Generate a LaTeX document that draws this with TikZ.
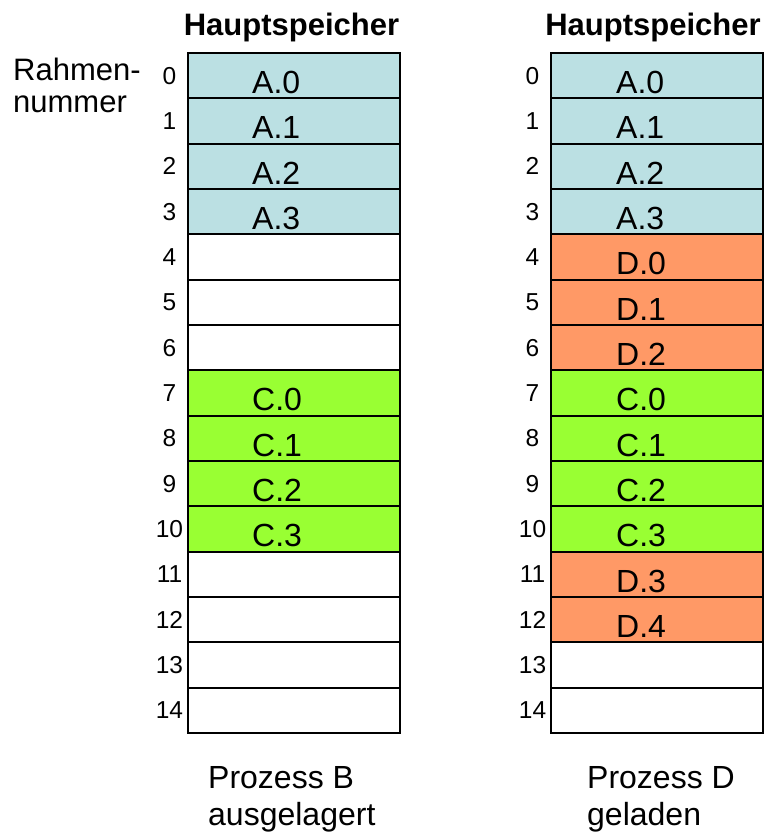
\documentclass[tikz,border=0pt]{standalone}
\usepackage{fontspec}
\setmainfont{Liberation Sans}
\usetikzlibrary{calc}
\definecolor{cblue}{RGB}{187,224,227}
\definecolor{cgreen}{RGB}{153,255,51}
\definecolor{corange}{RGB}{255,153,102}
\tikzset{
  cell/.style={draw=black, line width=2pt, minimum width=212pt, minimum height=45.333pt, inner sep=0pt, outer sep=0pt},
  celltext/.style={anchor=base west, font=\fontsize{32}{32}\selectfont, inner sep=0pt},
  num/.style={font=\fontsize{24.5}{24.5}\selectfont, inner sep=0pt},
  head/.style={anchor=base, font=\bfseries\fontsize{31}{31}\selectfont, inner sep=0pt},
  caption/.style={anchor=base west, align=left, font=\fontsize{32}{37}\selectfont, inner sep=0pt}
}
\begin{document}
\begin{tikzpicture}[x=1pt,y=-1pt]
\useasboundingbox (0,0) rectangle (767,833);
% headings
\node[head] (H1) at (291.5,35) {Hauptspeicher};
\node[head] (H2) at (653,35) {Hauptspeicher};
\node[anchor=base west, align=left, font=\fontsize{31}{32}\selectfont, inner sep=0pt] (RN) at (13,112) {Rahmen-\\nummer};
% left column
\foreach \i/\c in {0/cblue,1/cblue,2/cblue,3/cblue,4/white,5/white,6/white,7/cgreen,8/cgreen,9/cgreen,10/cgreen,11/white,12/white,13/white,14/white}{
  \node[cell, fill=\c] (L\i) at (294,{53+45.333*\i+22.667}) {};
  \node[num] (LN\i) at (169.5,{53+45.333*\i+22.667}) {\i};
}
\foreach \i/\t in {0/A.0,1/A.1,2/A.2,3/A.3,7/C.0,8/C.1,9/C.2,10/C.3}{
  \node[celltext] (LT\i) at ($(L\i.south west)+(64,-5)$) {\t};
}
% right column
\foreach \i/\c in {0/cblue,1/cblue,2/cblue,3/cblue,4/corange,5/corange,6/corange,7/cgreen,8/cgreen,9/cgreen,10/cgreen,11/corange,12/corange,13/white,14/white}{
  \node[cell, fill=\c] (R\i) at (657,{53+45.333*\i+22.667}) {};
  \node[num] (RN\i) at (532.5,{53+45.333*\i+22.667}) {\i};
}
\foreach \i/\t in {0/A.0,1/A.1,2/A.2,3/A.3,4/D.0,5/D.1,6/D.2,7/C.0,8/C.1,9/C.2,10/C.3,11/D.3,12/D.4}{
  \node[celltext] (RT\i) at ($(R\i.south west)+(65,-5)$) {\t};
}
% captions
\node[caption] (CB) at (208,825) {Prozess B\\ausgelagert};
\node[caption] (CD) at (587,825) {Prozess D\\geladen};
\end{tikzpicture}
\end{document}
